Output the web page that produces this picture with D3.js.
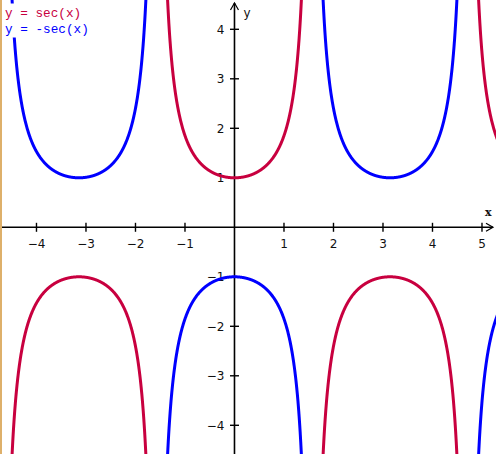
<!DOCTYPE html>
<html>
<head>
<meta charset="utf-8">
<script src="https://cdn.jsdelivr.net/npm/d3@7"></script>
<style>
html,body{margin:0;padding:0;background:#fff;}
svg{display:block;}
</style>
</head>
<body>
<svg id="chart" width="496" height="454"></svg>
<script>
// ---- data ----
const seriesLabels = ["y = sec(x)", "y = -sec(x)"];
const seriesSigns = [1, -1];
const seriesColors = ["#c8003f", "#0000ff"];
const xTicks = [-4, -3, -2, -1, 1, 2, 3, 4, 5];
const yTicks = [-4, -3, -2, -1, 1, 2, 3, 4];
const xDomain = [-4.737, 5.283];
const yDomain = [-4.58, 4.592];
const sampleStep = 0.004;

const W = 496, H = 454;
const svg = d3.select("#chart");
const x = d3.scaleLinear().domain(xDomain).range([0, W]);
const y = d3.scaleLinear().domain(yDomain).range([H, 0]);

svg.append("rect").attr("x",0).attr("y",0).attr("width",W).attr("height",H).attr("fill","#fff");

// axes lines
const x0 = x(0), y0 = y(0);
svg.append("line").attr("x1",0).attr("x2",W-3).attr("y1",y0).attr("y2",y0).attr("stroke","#000").attr("stroke-width",1.6);
svg.append("line").attr("x1",x0).attr("x2",x0).attr("y1",3).attr("y2",H).attr("stroke","#000").attr("stroke-width",1.6);
// arrows
svg.append("path").attr("d",`M${x0-4},${10} L${x0},${3} L${x0+4},${10}`).attr("fill","none").attr("stroke","#000").attr("stroke-width",1.2);
svg.append("path").attr("d",`M${W-10},${y0-4} L${W-3},${y0} L${W-10},${y0+4}`).attr("fill","none").attr("stroke","#000").attr("stroke-width",1.2);

// ticks
svg.selectAll(".xt").data(xTicks).enter().append("line")
  .attr("x1",d=>x(d)).attr("x2",d=>x(d)).attr("y1",y0-4.5).attr("y2",y0+4.5)
  .attr("stroke","#000").attr("stroke-width",1.4);
svg.selectAll(".yt").data(yTicks).enter().append("line")
  .attr("y1",d=>y(d)).attr("y2",d=>y(d)).attr("x1",x0-4.5).attr("x2",x0+4.5)
  .attr("stroke","#000").attr("stroke-width",1.4);

const fmt = d => (d < 0 ? "\u2212" + Math.abs(d) : String(d));
svg.selectAll(".xl").data(xTicks).enter().append("text")
  .attr("x",d=>x(d)).attr("y",y0+21)
  .attr("text-anchor","middle")
  .attr("font-family","DejaVu Sans, sans-serif").attr("font-size",12)
  .attr("fill","#111").text(fmt);
svg.selectAll(".yl").data(yTicks).enter().append("text")
  .attr("x",x0-10).attr("y",d=>y(d)+4.5)
  .attr("text-anchor","end")
  .attr("font-family","DejaVu Sans, sans-serif").attr("font-size",12)
  .attr("fill","#111").text(fmt);

// axis names
svg.append("text").attr("x",x0+9).attr("y",17).attr("font-family","DejaVu Sans, sans-serif")
  .attr("font-size",12).attr("fill","#111").text("y");
svg.append("text").attr("x",W-11).attr("y",216).attr("font-family","DejaVu Serif, serif")
  .attr("font-size",11).attr("font-weight","bold").attr("fill","#111").text("x");

// curves: split into branches between asymptotes
const clip = svg.append("clipPath").attr("id","clip").append("rect").attr("x",0).attr("y",0).attr("width",W).attr("height",H);
const line = d3.line().x(d=>x(d[0])).y(d=>y(d[1]));
const kMin = Math.floor(xDomain[0]/Math.PI - 0.5) - 1;
const kMax = Math.ceil(xDomain[1]/Math.PI + 0.5) + 1;
seriesSigns.forEach((s, i) => {
  for (let k = kMin; k <= kMax; k++) {
    const a = (k - 0.5) * Math.PI, b = (k + 0.5) * Math.PI;
    const pts = [];
    for (let t = a + 0.001; t < b; t += sampleStep) {
      if (t < xDomain[0] - 0.2 || t > xDomain[1] + 0.2) continue;
      const v = s / Math.cos(t);
      if (Math.abs(v) > 8) continue;
      pts.push([t, v]);
    }
    if (pts.length < 2) continue;
    svg.append("path").attr("d", line(pts)).attr("fill","none")
      .attr("stroke", seriesColors[i]).attr("stroke-width", 3)
      .attr("clip-path","url(#clip)");
  }
});

// legend
svg.append("rect").attr("x",2).attr("y",3.5).attr("width",92).attr("height",34).attr("fill","#fff");
seriesLabels.forEach((lab, i) => {
  svg.append("text").attr("x",5).attr("y",17 + i*15.5)
    .attr("font-family","Liberation Mono, DejaVu Sans Mono, monospace")
    .attr("font-size",12.7).attr("fill",seriesColors[i]).attr("xml:space","preserve")
    .text(lab);
});

// left border
svg.append("rect").attr("x",0).attr("y",0).attr("width",2).attr("height",H).attr("fill","#deb06a");
</script>
</body>
</html>
